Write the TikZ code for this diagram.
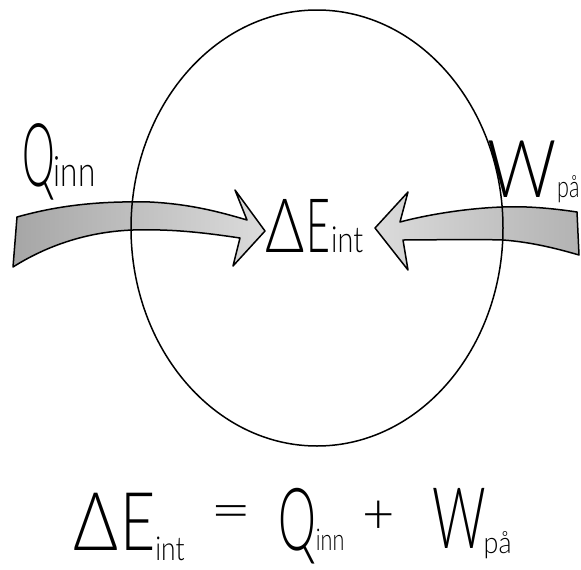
\documentclass[tikz,border=0pt]{standalone}
\usepackage{fontspec}
\IfFontExistsTF{Lato Light}{\setmainfont{Lato Light}}{%
  \IfFontExistsTF{Noto Sans Light}{\setmainfont{Noto Sans Light}}{\setmainfont{Liberation Sans}}}
\newcommand\hw[3]{{\fontsize{#2}{#2}\selectfont\scalebox{#1}[1]{#3}}}
\tikzset{
  txt/.style={inner sep=0pt, outer sep=0pt, text=black},
  bigarrow/.style={draw=black, line width=1.5pt, line join=round},
  sysline/.style={draw=black, line width=1.5pt}
}
\begin{document}
\begin{tikzpicture}[x=1pt,y=-1pt]
\useasboundingbox (0,0) rectangle (581,570);
\fill[white] (0,0) rectangle (581,570);
\clip (0,0) rectangle (581,570);
% left arrow (Q in)
\path[bigarrow, left color=gray!70, right color=gray!28]
  (17,217) .. controls (60,205) and (100,201) .. (150,202)
  .. controls (190,204) and (220,212) .. (247,220)
  -- (235,190) -- (265,231) -- (233,266) -- (240,238)
  .. controls (200,232) and (170,229) .. (133,230)
  .. controls (80,232) and (40,250) .. (13,267) -- cycle;
% right arrow (W on)
\path[bigarrow, left color=gray!28, right color=gray!60]
  (577,212) .. controls (550,208) and (525,206) .. (503,207)
  .. controls (470,208) and (430,214) .. (400,222)
  -- (408,192) -- (375,228) -- (408,270) -- (403,240)
  .. controls (430,240) and (470,239) .. (503,240)
  .. controls (530,242) and (555,248) .. (579,255) -- cycle;
% system boundary
\draw[sysline] (317,228) ellipse [x radius=186, y radius=218];
% labels
\node[txt, anchor=base west] (qtop) at (22,186) {\hw{0.47}{88}{Q}\kern-1pt\hw{0.75}{42}{inn}};
\node[txt, anchor=base west] (wtop) at (487,197) {\hw{0.85}{80}{W}\kern1pt\hw{0.72}{30}{på}};
\node[txt, anchor=base west] (eint) at (265,252) {\hw{0.8}{75}{Δ}\kern2pt\hw{0.55}{75}{E}\kern1pt\hw{0.8}{36}{int}};
% equation
\node[txt, anchor=base west] (eqdE) at (73,550) {\hw{0.85}{81}{Δ}\kern2pt\hw{0.75}{81}{E}\raisebox{-10pt}{\hw{0.8}{33}{int}}};
\node[txt] (eqeq) at (231,518) {\hw{1.3}{55}{=}};
\node[txt, anchor=base west] (eqQ) at (278,550) {\hw{0.55}{87}{Q}\hw{0.72}{30}{inn}};
\node[txt] (eqplus) at (379,517) {\hw{1}{56}{+}};
\node[txt, anchor=base west] (eqW) at (432,548) {\hw{0.62}{85}{W}\kern-2pt\raisebox{-5pt}{\hw{0.9}{30}{på}}};
\end{tikzpicture}
\end{document}
